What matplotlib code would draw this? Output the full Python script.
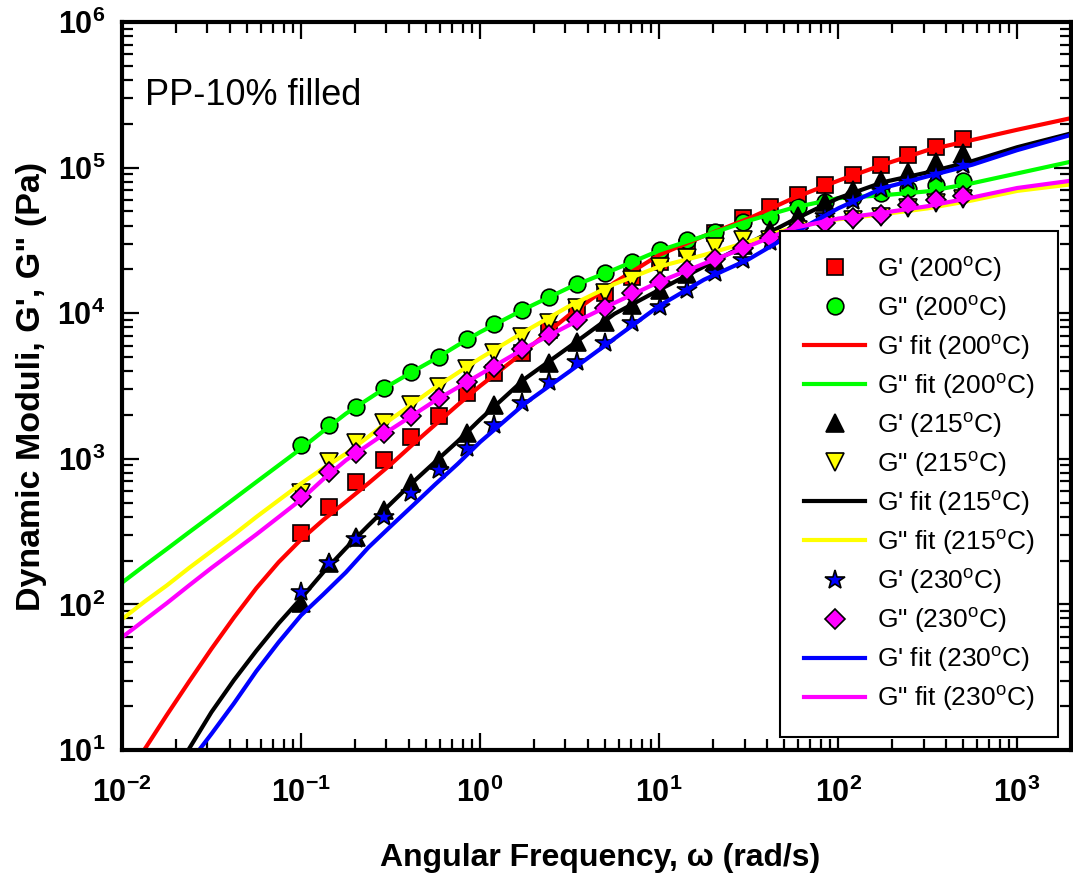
import math
import matplotlib
matplotlib.use('Agg')
import matplotlib.pyplot as plt
from matplotlib.ticker import LogLocator, FuncFormatter, NullFormatter

# frequências medidas (rad/s)
omega = [0.1, 0.143, 0.203, 0.29, 0.414, 0.59, 0.841, 1.2, 1.71, 2.44, 3.48, 4.96, 7.08,
         10.1, 14.4, 20.5, 29.3, 41.7, 59.5, 84.9, 121, 173, 246, 351, 500]

# dados experimentais (Pa)
gp_200 = [310, 469, 690, 982, 1406, 1978, 2818, 3865, 5305, 7670, 10520, 13700, 17830,
          22570, 27900, 35400, 44800, 53900, 64800, 75900, 88900, 104200, 122100, 137800, 156500]
gpp_200 = [1245, 1706, 2280, 3050, 3926, 5027, 6620, 8430, 10520, 12980, 15870, 18970, 22570,
           27170, 31820, 36290, 42500, 46000, 53300, 58300, 63100, 66600, 71300, 75900, 81300]
gp_215 = [102, 191, 292, 445, 679, 982, 1497, 2340, 3300, 4530, 6370, 8740, 11380,
          14430, 18600, 22900, 29500, 37200, 46800, 58300, 70200, 82200, 93800, 110000, 125300]
gpp_215 = [580, 955, 1277, 1752, 2342, 3129, 4139, 5305, 6830, 8530, 10800, 13700, 16900,
           20860, 23900, 28600, 31800, 32000, 37000, 40500, 43500, 46000, 52500, 57000, 61000]
gp_230 = [122, 191, 280, 400, 580, 838, 1180, 1707, 2405, 3390, 4645, 6210, 8530,
          11090, 14430, 18790, 23170, 30900, 36700, 46200, 58900, 71600, 81300, 90200, 105000]
gpp_230 = [549, 815, 1101, 1497, 1977, 2604, 3352, 4295, 5650, 7080, 8980, 10800, 13700,
           16450, 19800, 23460, 27900, 32700, 38300, 41420, 44800, 47250, 55300, 59900, 63800]

# curvas de ajuste
omega_fit = [0.01, 0.0133, 0.0178, 0.0237, 0.0316, 0.0422, 0.0562, 0.075, 0.1, 0.133,
             0.178, 0.237, 0.316, 0.422, 0.562, 0.75, 1, 1.78, 3.16, 5.62, 10, 17.8,
             31.6, 56.2, 100, 178, 316, 562, 1000, 2000]
fit_gp_200 = [5.70, 10.0, 17.4, 29.5, 49.5, 81.3, 129, 195, 279, 380, 507, 676, 912, 1259,
              1718, 2344, 3162, 5495, 9772, 16218, 25119, 33884, 44668, 61660, 81283,
              104713, 131826, 154882, 181970, 218776]
fit_gpp_200 = [141, 184, 240, 313, 407, 531, 692, 902, 1175, 1549, 2042, 2570, 3236, 3981,
               4853, 6026, 7413, 10715, 15031, 19953, 26915, 33884, 43152, 53088, 61660,
               64565, 68707, 78163, 91201, 109901]
fit_gp_215 = [1.78, 3.16, 5.69, 10.2, 18.2, 30.2, 47.9, 74.1, 110, 166, 243, 347, 490, 692,
              955, 1318, 1862, 3548, 5888, 9886, 14454, 20893, 30200, 43652, 61660, 79433,
              92683, 110917, 138038, 171791]
fit_gpp_215 = [79.1, 104, 135, 178, 232, 302, 398, 519, 676, 861, 1084, 1413, 1862, 2399,
               3090, 3890, 4898, 7499, 11220, 15849, 20893, 25119, 30903, 38905, 44157,
               47863, 52481, 59566, 69183, 76736]
fit_gp_230 = [1.58, 2.82, 4.90, 8.13, 12.9, 20.9, 34.7, 55.0, 84.1, 117, 166, 245, 343, 479,
              668, 923, 1303, 2399, 3981, 6683, 11220, 16982, 23442, 35481, 52481, 72444,
              87096, 104713, 131826, 167880]
fit_gpp_230 = [59.4, 77.6, 102, 135, 178, 232, 302, 398, 525, 724, 977, 1245, 1585, 1995,
               2512, 3090, 3802, 5754, 8318, 11749, 16406, 21878, 28840, 38459, 44668,
               48978, 54325, 62373, 72444, 81283]

plt.rcParams.update({
    'font.family': 'Liberation Sans',
    'mathtext.fontset': 'custom',
    'mathtext.rm': 'Liberation Sans',
    'mathtext.it': 'Liberation Sans:italic',
    'mathtext.bf': 'Liberation Sans:bold',
})

fig = plt.figure(figsize=(10.73, 8.74), dpi=100)
ax = fig.add_axes([0.1137, 0.1419, 0.8845, 0.8329])

deg = '$^\\mathrm{o}$C)'
mk = dict(markeredgecolor='black', markeredgewidth=1.2, linestyle='none')
lw = 3

ax.plot(omega, gp_200, marker='s', markersize=11, markerfacecolor='#ff0000', label="G' (200" + deg, **mk)
ax.plot(omega, gpp_200, marker='o', markersize=12, markerfacecolor='#00ff00', label='G" (200' + deg, **mk)
ax.plot(omega_fit, fit_gp_200, color='#ff0000', lw=lw, label="G' fit (200" + deg)
ax.plot(omega_fit, fit_gpp_200, color='#00ff00', lw=lw, label='G" fit (200' + deg)

ax.plot(omega, gp_215, marker='^', markersize=13, markerfacecolor='black', label="G' (215" + deg, **mk)
ax.plot(omega, gpp_215, marker='v', markersize=13, markerfacecolor='#ffff00', label='G" (215' + deg, **mk)
ax.plot(omega_fit, fit_gp_215, color='black', lw=lw, label="G' fit (215" + deg)
ax.plot(omega_fit, fit_gpp_215, color='#ffff00', lw=lw, label='G" fit (215' + deg)

ax.plot(omega, gp_230, marker='*', markersize=15, markerfacecolor='#0000ff', label="G' (230" + deg, **mk)
ax.plot(omega, gpp_230, marker='D', markersize=10, markerfacecolor='#ff00ff', label='G" (230' + deg, **mk)
ax.plot(omega_fit, fit_gp_230, color='#0000ff', lw=lw, label="G' fit (230" + deg)
ax.plot(omega_fit, fit_gpp_230, color='#ff00ff', lw=lw, label='G" fit (230' + deg)

ax.set_xscale('log')
ax.set_yscale('log')
ax.set_xlim(1e-2, 2e3)
ax.set_ylim(1e1, 1e6)

fmt = FuncFormatter(lambda v, p: '$\\mathbf{10^{%d}}$' % round(math.log10(v)))
for axis in (ax.xaxis, ax.yaxis):
    axis.set_major_locator(LogLocator(base=10, numticks=20))
    axis.set_minor_locator(LogLocator(base=10, subs=range(2, 10), numticks=20))
    axis.set_major_formatter(fmt)
    axis.set_minor_formatter(NullFormatter())

ax.tick_params(which='both', direction='in', top=True, right=True, width=1.6)
ax.tick_params(which='major', length=12, labelsize=22)
ax.tick_params(which='minor', length=8)
ax.tick_params(axis='x', which='major', pad=20)
ax.tick_params(axis='y', which='major', pad=12)
for s in ax.spines.values():
    s.set_linewidth(3)

ax.text(0.024, 0.886, 'PP-10% filled', transform=ax.transAxes, fontsize=26, va='baseline')

fig.text(0.559, 0.0095, 'Angular Frequency, \u03c9 (rad/s)', ha='center', va='baseline',
         fontsize=23, fontweight='bold')
fig.text(0.029, 0.558, 'Dynamic Moduli, G\', G" (Pa)', ha='center', va='center',
         rotation=90, fontsize=24.5, fontweight='bold')

leg = ax.legend(loc='lower right', fontsize=19, frameon=True, fancybox=False, framealpha=1,
                edgecolor='black', handlelength=2.3, handletextpad=0.45, labelspacing=0.38,
                borderpad=0.9, borderaxespad=0.5, numpoints=1)
leg.get_frame().set_linewidth(1.5)

fig.savefig('out.png', dpi=100)
